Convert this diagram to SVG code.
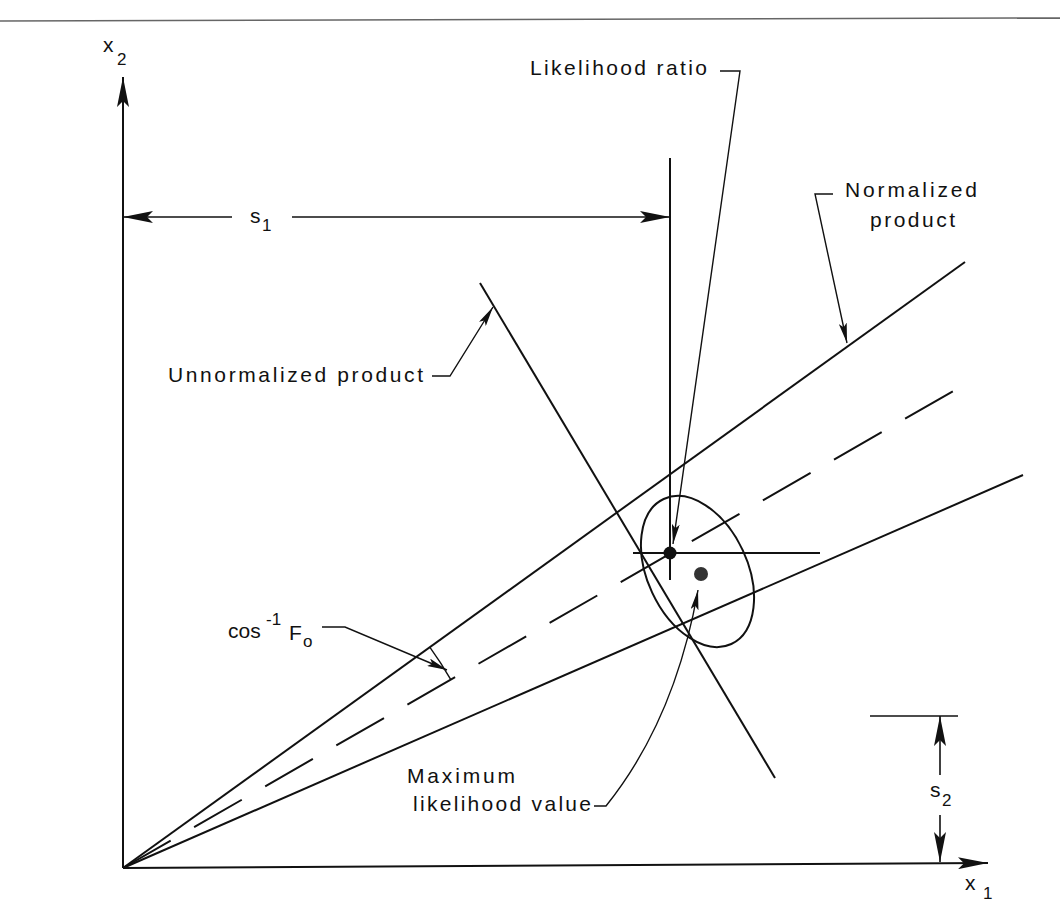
<svg xmlns="http://www.w3.org/2000/svg" width="1060" height="902" viewBox="0 0 1060 902">
<style>
.ln{stroke:#111;stroke-width:2;fill:none}
.dim{stroke:#111;stroke-width:1.6;fill:none}
.ld{stroke:#111;stroke-width:1.4;fill:none}
.t{font-family:"Liberation Sans",Arial,sans-serif;font-size:21px;fill:#111}
.s{font-family:"Liberation Sans",Arial,sans-serif;font-size:17px;fill:#111}
</style>
<defs>
<marker id="big" viewBox="0 0 30 12" refX="30" refY="6" markerWidth="30" markerHeight="12" markerUnits="userSpaceOnUse" orient="auto"><path d="M0,0 L30,6 L0,12 L6,6 z" fill="#111"/></marker>
<marker id="sm" viewBox="0 0 20 8" refX="20" refY="4" markerWidth="20" markerHeight="8" markerUnits="userSpaceOnUse" orient="auto"><path d="M0,0 L20,4 L0,8 L4,4 z" fill="#111"/></marker>
</defs>
<rect width="1060" height="902" fill="#fff"/>
<line x1="0" y1="21" x2="1060" y2="18" stroke="#666" stroke-width="1.5"/>

<g id="axes">
<line class="ln" x1="123" y1="868" x2="123" y2="77" marker-end="url(#big)"/>
<line class="ln" x1="123" y1="868" x2="988" y2="863" marker-end="url(#big)"/>
<text class="t" x="103" y="52">x</text><text class="s" x="117" y="65">2</text>
<text class="t" x="965" y="890">x</text><text class="s" x="983" y="899">1</text>
</g>

<g id="rays">
<line class="ln" x1="123" y1="868" x2="965" y2="262"/>
<line class="ln" x1="123" y1="868" x2="955" y2="390" stroke-dasharray="55 27"/>
<line class="ln" x1="123" y1="868" x2="1023" y2="475"/>
<line class="ln" x1="480" y1="283" x2="775" y2="778"/>
<path class="ld" d="M429.8,647.2 A378,378 0 0 1 450.8,679.7"/>
</g>

<g id="ellipse">
<ellipse class="ln" cx="697.5" cy="571.5" rx="50" ry="80" transform="rotate(-25 697.5 571.5)"/>
<line class="ln" x1="670" y1="158" x2="670" y2="580"/>
<line class="ln" x1="633" y1="553" x2="820" y2="553"/>
<circle cx="670" cy="553" r="6.5" fill="#111"/>
<circle cx="701" cy="574" r="7" fill="#333"/>
</g>

<g id="dimensions">
<line class="dim" x1="232" y1="217" x2="123" y2="217" marker-end="url(#big)"/>
<line class="dim" x1="292" y1="217" x2="670" y2="217" marker-end="url(#big)"/>
<text class="t" x="250" y="223">s</text><text class="s" x="262" y="231">1</text>
<line class="dim" x1="870" y1="716" x2="958" y2="716"/>
<line class="dim" x1="940" y1="775" x2="940" y2="716" marker-end="url(#big)"/>
<line class="dim" x1="940" y1="815" x2="940" y2="862" marker-end="url(#big)"/>
<text class="t" x="930" y="797">s</text><text class="s" x="942" y="806">2</text>
</g>

<g id="connectors">
<path class="ld" d="M720,71 H740 L673,544" marker-end="url(#sm)"/>
<path class="ld" d="M833,194 H815 L847,343" marker-end="url(#sm)"/>
<path class="ld" d="M432,376 H450 L493,307" marker-end="url(#sm)"/>
<path class="ld" d="M322,627 H345 L447,670" marker-end="url(#sm)"/>
<path class="ld" d="M594,806 H606 Q675,720 698,590" marker-end="url(#sm)"/>
</g>

<g id="labels">
<text class="t" x="530" y="75" textLength="177" lengthAdjust="spacing">Likelihood ratio</text>
<text class="t" x="845" y="197" textLength="132" lengthAdjust="spacing">Normalized</text>
<text class="t" x="870" y="227" textLength="85" lengthAdjust="spacing">product</text>
<text class="t" x="168" y="382" textLength="255" lengthAdjust="spacing">Unnormalized product</text>
<text class="t" x="228" y="638">cos</text><text class="s" x="266" y="625">-1</text><text class="t" x="289" y="640">F</text><text class="s" x="303" y="647">o</text>
<text class="t" x="407" y="783" textLength="108" lengthAdjust="spacing">Maximum</text>
<text class="t" x="413" y="811" textLength="178" lengthAdjust="spacing">likelihood value</text>
</g>
</svg>
